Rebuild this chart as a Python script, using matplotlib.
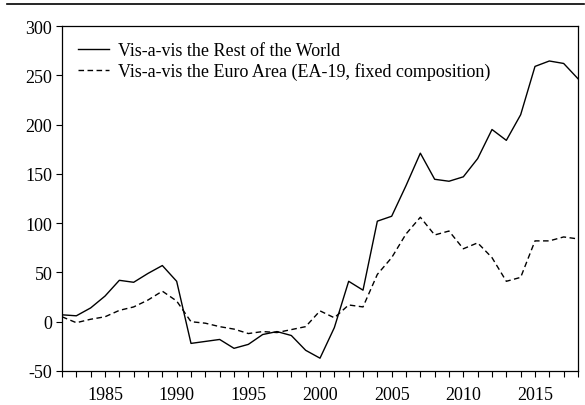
import matplotlib
matplotlib.use("Agg")
import matplotlib.pyplot as plt
from matplotlib.ticker import MultipleLocator
from matplotlib.lines import Line2D

years = list(range(1982, 2019))
rest_of_world = [7, 6, 14, 26, 42, 40, 49, 57, 41, -22, -20, -18, -27, -23, -13, -10, -14,
                 -29, -37, -6, 41, 32, 102, 107, 138, 171, 144.5, 142.5, 147, 165.5, 195,
                 184, 210, 259, 264.5, 262, 246.5]
euro_area = [5, -1, 2.5, 5, 11.5, 15, 22, 31, 21, 0, -1.5, -5, -7.5, -12, -10, -11, -8,
             -5, 11, 4, 17, 15, 48, 65, 89, 106, 88, 92, 74, 80, 65, 41, 45, 82, 82, 86, 84]
labels = ["Vis-a-vis the Rest of the World",
          "Vis-a-vis the Euro Area (EA-19, fixed composition)"]
yticks = [-50, 0, 50, 100, 150, 200, 250, 300]
xticks = [1985, 1990, 1995, 2000, 2005, 2010, 2015]

plt.rcParams['font.family'] = ['Liberation Serif', 'DejaVu Serif']
plt.rcParams['axes.unicode_minus'] = False
fig = plt.figure(figsize=(5.85, 4.06), dpi=100)
ax = fig.add_axes([62/585, 1-372/406, (578-62)/585, (372-27)/406])

ax.plot(years, rest_of_world, color='black', lw=1.0, label=labels[0])
ax.plot(years, euro_area, color='black', lw=1.0, ls=(0, (4, 2.5)), label=labels[1])

ax.set_xlim(1982, 2018)
ax.set_ylim(-50, 300)
ax.set_yticks(yticks)
ax.set_xticks(xticks)
ax.xaxis.set_minor_locator(MultipleLocator(1))
ax.tick_params(axis='both', which='both', direction='out', labelsize=13, length=4, width=0.8)
ax.tick_params(axis='x', which='minor', length=4)
ax.tick_params(axis='x', pad=6.5)
ax.tick_params(axis='y', pad=3)
for s in ax.spines.values():
    s.set_linewidth(0.9)

leg = ax.legend(loc='upper left', frameon=False, fontsize=13, handlelength=1.7,
                handletextpad=0.5, labelspacing=0.15, borderaxespad=0.5,
                bbox_to_anchor=(0.0, 1.0))

fig.add_artist(Line2D([7/585, 584/585], [1-5/406, 1-5/406], color='black', lw=1.2,
                      transform=fig.transFigure))

fig.savefig("out.png", dpi=100)
